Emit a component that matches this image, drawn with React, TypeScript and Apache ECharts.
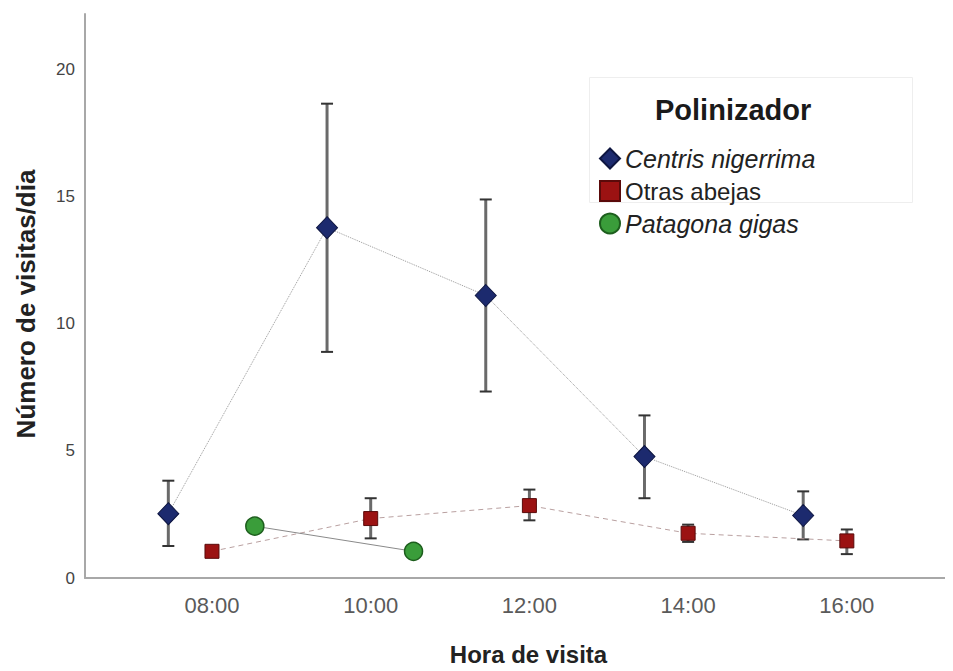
import React, { useEffect, useRef } from "react";
import * as echarts from "echarts";

const tickHours = [8, 10, 12, 14, 16];
const tickLabels = ["08:00", "10:00", "12:00", "14:00", "16:00"];

const centrisX = [7.45, 9.45, 11.45, 13.45, 15.45];
const centrisMean = [2.53, 13.79, 11.12, 4.78, 2.46];
const centrisLow = [1.26, 8.9, 7.34, 3.14, 1.52];
const centrisHigh = [3.83, 18.67, 14.9, 6.4, 3.41];

const otrasX = [8, 10, 12, 14, 16];
const otrasMean = [1.05, 2.34, 2.85, 1.76, 1.46];
const otrasLow = [null, 1.56, 2.27, 1.42, 0.94];
const otrasHigh = [null, 3.14, 3.48, 2.1, 1.91];

const patagonaX = [8.54, 10.54];
const patagonaMean = [2.04, 1.05];

const seriesNames = ["Centris nigerrima", "Otras abejas", "Patagona gigas"];
const legendIcons = ["diamond", "rect", "circle"];

export default function App() {
  const ref = useRef<HTMLDivElement>(null);

  useEffect(() => {
    if (!ref.current) return;
    const chart = echarts.init(ref.current, null, { renderer: "svg" });

    const errData: number[][] = [];
    centrisX.forEach((x, i) => errData.push([x, centrisLow[i], centrisHigh[i]]));
    otrasX.forEach((x, i) => {
      if (otrasLow[i] != null && otrasHigh[i] != null)
        errData.push([x, otrasLow[i] as number, otrasHigh[i] as number]);
    });

    const font = "Liberation Sans, Arial, sans-serif";

    chart.setOption({
      animation: false,
      textStyle: { fontFamily: font },
      grid: { left: 85, right: 3, top: 14, bottom: 88 },
      xAxis: {
        type: "value",
        min: 6.4,
        max: 17.3,
        name: "Hora de visita",
        nameLocation: "middle",
        nameGap: 64,
        nameTextStyle: {
          fontSize: 24,
          fontWeight: "bold",
          color: "#222",
          fontFamily: font,
          padding: [0, 0, 0, 22],
        },
        axisLine: { show: true, lineStyle: { color: "#a8a8a8", width: 2 } },
        axisTick: { show: false },
        splitLine: { show: false },
        axisLabel: {
          customValues: tickHours,
          formatter: (v: number) => tickLabels[tickHours.indexOf(v)] ?? "",
          fontSize: 22,
          color: "#5a5a5a",
          margin: 16,
          fontFamily: font,
        },
      },
      yAxis: {
        type: "value",
        min: 0,
        max: 22.2,
        interval: 5,
        name: "Número de visitas/dia",
        nameLocation: "middle",
        nameGap: 46,
        nameRotate: 90,
        nameTextStyle: {
          fontSize: 26,
          fontWeight: "bold",
          color: "#222",
          fontFamily: font,
          padding: [0, 16, 0, 0],
        },
        axisLine: { show: true, lineStyle: { color: "#a8a8a8", width: 2 } },
        axisTick: { show: false },
        splitLine: { show: false },
        axisLabel: {
          fontSize: 17,
          color: "#444",
          margin: 10,
          fontFamily: font,
          showMaxLabel: false,
        },
      },
      legend: {
        orient: "vertical",
        left: 594,
        top: 141,
        itemWidth: 20,
        itemHeight: 20,
        itemGap: 8,
        data: seriesNames.map((name, i) => ({ name, icon: legendIcons[i] })),
        formatter: (name: string) =>
          name === "Otras abejas" ? `{n|${name}}` : `{i|${name}}`,
        textStyle: {
          color: "#222",
          fontSize: 25,
          rich: {
            i: { fontStyle: "italic", fontSize: 25, color: "#222", fontFamily: font },
            n: { fontSize: 24, color: "#222", fontFamily: font },
          },
        },
      },
      graphic: [
        {
          type: "rect",
          left: 587,
          top: 75,
          shape: { width: 323, height: 125 },
          style: { fill: "none", stroke: "#eeeeee", lineWidth: 1 },
          z: -1,
        },
        {
          type: "text",
          left: 655,
          top: 95,
          style: {
            text: "Polinizador",
            fontSize: 29,
            fontWeight: "bold",
            fill: "#1a1a1a",
            fontFamily: font,
          },
        },
      ],
      series: [
        {
          type: "custom",
          name: "errores",
          silent: true,
          z: 1,
          renderItem: (params: any, api: any) => {
            const x = api.value(0);
            const lo = api.coord([x, api.value(1)]);
            const hi = api.coord([x, api.value(2)]);
            const cw = 6;
            return {
              type: "group",
              children: [
                {
                  type: "line",
                  shape: { x1: lo[0], y1: lo[1], x2: hi[0], y2: hi[1] },
                  style: { stroke: "#6a6a6a", lineWidth: 3 },
                },
                {
                  type: "line",
                  shape: { x1: hi[0] - cw, y1: hi[1], x2: hi[0] + cw, y2: hi[1] },
                  style: { stroke: "#333", lineWidth: 2 },
                },
                {
                  type: "line",
                  shape: { x1: lo[0] - cw, y1: lo[1], x2: lo[0] + cw, y2: lo[1] },
                  style: { stroke: "#333", lineWidth: 2 },
                },
              ],
            };
          },
          data: errData,
        },
        {
          name: seriesNames[0],
          type: "line",
          z: 3,
          data: centrisX.map((x, i) => [x, centrisMean[i]]),
          symbol: "diamond",
          symbolSize: [21, 22],
          itemStyle: { color: "#1c2a6e", borderColor: "#0d1540", borderWidth: 1 },
          lineStyle: { color: "#999999", width: 1, type: "dotted" },
        },
        {
          name: seriesNames[1],
          type: "line",
          z: 3,
          data: otrasX.map((x, i) => [x, otrasMean[i]]),
          symbol: "rect",
          symbolSize: 14,
          itemStyle: { color: "#9b1212", borderColor: "#5a0a0a", borderWidth: 1 },
          lineStyle: { color: "#b9a0a0", width: 1, type: [5, 4] },
        },
        {
          name: seriesNames[2],
          type: "line",
          z: 3,
          data: patagonaX.map((x, i) => [x, patagonaMean[i]]),
          symbol: "circle",
          symbolSize: 18,
          itemStyle: { color: "#3a9d3a", borderColor: "#1d5e1d", borderWidth: 1.5 },
          lineStyle: { color: "#8a8a8a", width: 1, type: "solid" },
        },
      ],
    });

    return () => chart.dispose();
  }, []);

  return <div ref={ref} style={{ width: 953, height: 671, marginLeft: -8, marginTop: -8 }} />;
}
